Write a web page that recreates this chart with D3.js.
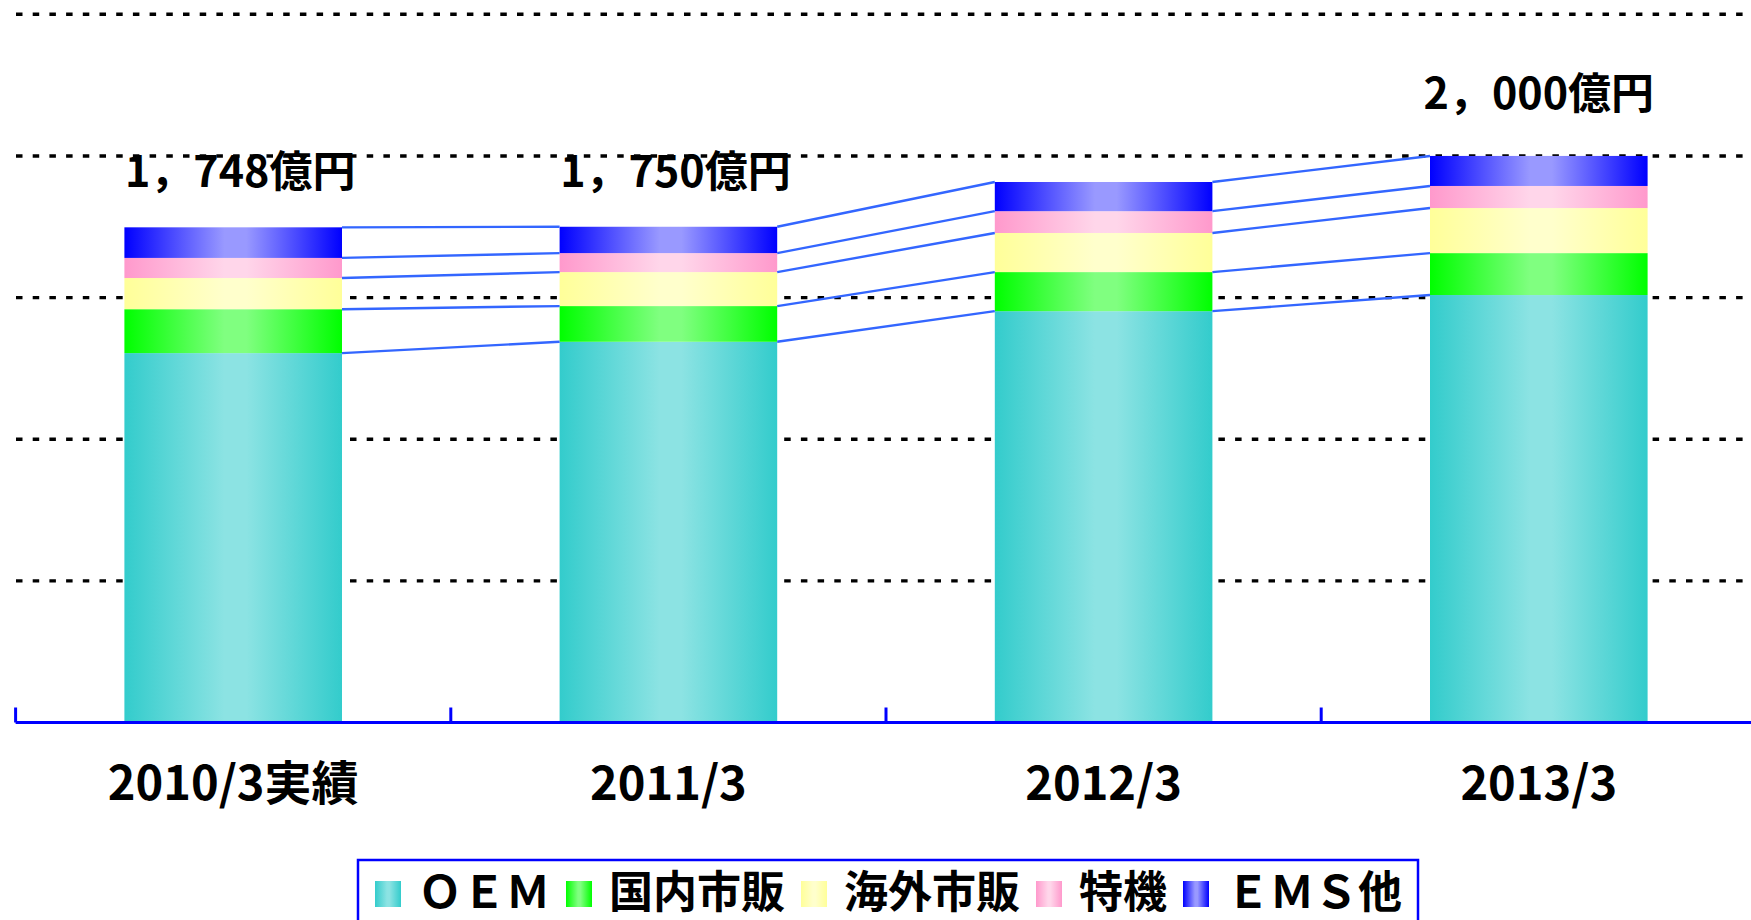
<!DOCTYPE html>
<html>
<head>
<meta charset="utf-8">
<script src="https://cdn.jsdelivr.net/npm/d3@7"></script>
<style>
  html, body { margin: 0; padding: 0; background: #fff; overflow: hidden; }
  svg { display: block; }
  text { font-family: "Noto Sans CJK JP", "Noto Sans", sans-serif; font-weight: bold; fill: #000; }
</style>
</head>
<body>
<svg id="chart" width="1751" height="920"></svg>
<script>
// categories and series (億円)
var categories = ["2010/3実績", "2011/3", "2012/3", "2013/3"];
var seriesNames = ["ＯＥＭ", "国内市販", "海外市販", "特機", "ＥＭＳ他"];
var oem      = [1304, 1344, 1452, 1509];
var kokunai  = [155, 126, 138, 148];
var kaigai   = [110, 120, 138, 159];
var tokki    = [71, 67, 77, 78];
var ems      = [108, 93, 103, 106];
var totalLabels = ["1，748億円", "1，750億円", "", "2，000億円"];
var totalLabelDx = [7, 7, 0, 0];
var totalLabelDy = [-40, -40, 0, -47];
var yTicks = [500, 1000, 1500, 2000, 2500];

var edgeColors  = ["#33cccc", "#00ff00", "#ffff99", "#ff99cc", "#0000ff"];
var lightColors = ["#8ce3e3", "#80ff80", "#ffffcc", "#ffd6ea", "#9999ff"];

var svg = d3.select("#chart");

var x = d3.scaleBand()
	.domain(categories)
	.range([15.6, 1756.4])
	.paddingInner(0.5)
	.paddingOuter(0.25);

var y = d3.scaleLinear()
	.domain([0, 2500])
	.range([722.5, 14.3]);

// gradients
var defs = svg.append("defs");
seriesNames.forEach(function(s, i)
{
	var g = defs.append("linearGradient")
		.attr("id", "grad" + i)
		.attr("x1", "0%").attr("x2", "100%")
		.attr("y1", "0%").attr("y2", "0%");
	g.append("stop").attr("offset", "0%").attr("stop-color", edgeColors[i]);
	g.append("stop").attr("offset", "46%").attr("stop-color", lightColors[i]);
	g.append("stop").attr("offset", "56%").attr("stop-color", lightColors[i]);
	g.append("stop").attr("offset", "100%").attr("stop-color", edgeColors[i]);
});

// gridlines
svg.append("g")
	.selectAll("line")
	.data(yTicks)
	.enter()
	.append("line")
	.attr("x1", 16)
	.attr("x2", 1751)
	.attr("y1", function(d) { return y(d); })
	.attr("y2", function(d) { return y(d); })
	.attr("stroke", "#000")
	.attr("stroke-width", 3.4)
	.attr("stroke-dasharray", "6.5,10.2");

// stack
var table = categories.map(function(c, i)
{
	return { cat: c, s0: oem[i], s1: kokunai[i], s2: kaigai[i], s3: tokki[i], s4: ems[i] };
});
var stack = d3.stack().keys(["s0", "s1", "s2", "s3", "s4"]);
var stacked = stack(table);

var layers = svg.append("g")
	.selectAll("g")
	.data(stacked)
	.enter()
	.append("g")
	.attr("fill", function(d, i) { return "url(#grad" + i + ")"; });

layers.selectAll("rect")
	.data(function(d) { return d; })
	.enter()
	.append("rect")
	.attr("x", function(d) { return x(d.data.cat); })
	.attr("width", x.bandwidth())
	.attr("y", function(d) { return y(d[1]); })
	.attr("height", function(d) { return y(d[0]) - y(d[1]); });

// connector lines between bars
var connectors = [];
stacked.forEach(function(layer)
{
	for (var i = 0; i < categories.length - 1; i++)
	{
		connectors.push({
			x1: x(categories[i]) + x.bandwidth(),
			y1: y(layer[i][1]),
			x2: x(categories[i + 1]),
			y2: y(layer[i + 1][1])
		});
	}
});
svg.append("g")
	.selectAll("line")
	.data(connectors)
	.enter()
	.append("line")
	.attr("x1", function(d) { return d.x1; })
	.attr("y1", function(d) { return d.y1; })
	.attr("x2", function(d) { return d.x2; })
	.attr("y2", function(d) { return d.y2; })
	.attr("stroke", "#3366ff")
	.attr("stroke-width", 2.4);

// total labels
var topLayer = stacked[stacked.length - 1];
svg.append("g")
	.selectAll("text")
	.data(totalLabels)
	.enter()
	.append("text")
	.attr("x", function(d, i) { return x(categories[i]) + x.bandwidth() / 2 + totalLabelDx[i]; })
	.attr("y", function(d, i) { return y(topLayer[i][1]) + totalLabelDy[i]; })
	.attr("text-anchor", "middle")
	.style("font-size", "43px")
	.text(function(d) { return d; });

// x axis
var axis = svg.append("g");
axis.append("line")
	.attr("x1", x.range()[0])
	.attr("x2", 1751)
	.attr("y1", y(0))
	.attr("y2", y(0))
	.attr("stroke", "#0000ff")
	.attr("stroke-width", 3);
axis.selectAll(".tick")
	.data(categories)
	.enter()
	.append("line")
	.attr("class", "tick")
	.attr("x1", function(d) { return x(d) - x.step() * 0.25; })
	.attr("x2", function(d) { return x(d) - x.step() * 0.25; })
	.attr("y1", y(0))
	.attr("y2", y(0) - 15)
	.attr("stroke", "#0000ff")
	.attr("stroke-width", 3);
axis.selectAll(".catlabel")
	.data(categories)
	.enter()
	.append("text")
	.attr("class", "catlabel")
	.attr("x", function(d) { return x(d) + x.bandwidth() / 2; })
	.attr("y", 800)
	.attr("text-anchor", "middle")
	.style("font-size", "47px")
	.text(function(d) { return d; });

// legend
var legendGroup = svg.append("g");
legendGroup.append("rect")
	.attr("x", 358)
	.attr("y", 860)
	.attr("width", 1060)
	.attr("height", 80)
	.attr("fill", "#fff")
	.attr("stroke", "#0000ff")
	.attr("stroke-width", 2.5);

var lx = 375;
seriesNames.forEach(function(s, i)
{
	legendGroup.append("rect")
		.attr("x", lx)
		.attr("y", 881)
		.attr("width", 26)
		.attr("height", 26)
		.attr("fill", "url(#grad" + i + ")");
	var t = legendGroup.append("text")
		.attr("x", lx + 43)
		.attr("y", 908)
		.style("font-size", "44px")
		.text(s);
	lx += 43 + t.node().getComputedTextLength() + 16;
});
</script>
</body>
</html>
